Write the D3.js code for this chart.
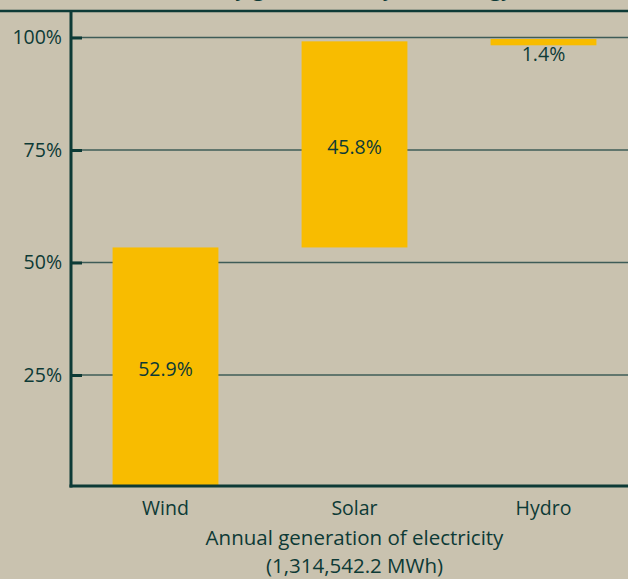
<!DOCTYPE html>
<html>
<head>
<meta charset="utf-8">
<script src="https://cdn.jsdelivr.net/npm/d3@7"></script>
<style>
  html, body { margin: 0; padding: 0; background: #c9c2af; overflow: hidden; }
  svg { display: block; font-family: "Open Sans", Lato, sans-serif; }
</style>
</head>
<body>
<svg id="chart" width="628" height="579"></svg>
<script>
const categories = ["Wind", "Solar", "Hydro"];
const shares = [52.9, 45.8, 1.4];
const yTicks = [25, 50, 75, 100];
const title = "Share of electricity generation by technology";
const xTitle = ["Annual generation of electricity", "(1,314,542.2 MWh)"];

const dark = "#0d3a36";
const gridColor = "#3e5c57";
const barColor = "#f8bc00";

const svg = d3.select("#chart");
const margin = {top: 12, left: 71, bottom: 486};

// running totals for the waterfall
let acc = 0;
const bars = categories.map((c, i) => {
    const start = acc;
    acc += shares[i];
    return {name: c, value: shares[i], start: start, end: acc};
});

const x = d3.scaleBand()
    .domain(categories)
    .range([margin.left, 638])
    .paddingInner(0.44)
    .paddingOuter(0.22);

const y = d3.scaleLinear()
    .domain([0, 100])
    .range([487.5, 37.5]);

// title (mostly cut off at top)
svg.append("text")
    .attr("x", 285)
    .attr("y", -4)
    .attr("text-anchor", "middle")
    .attr("font-size", 22)
    .attr("fill", dark)
    .text(title);

svg.append("line")
    .attr("x1", 0).attr("x2", 628)
    .attr("y1", 11).attr("y2", 11)
    .attr("stroke", dark)
    .attr("stroke-width", 2.5);

// gridlines
svg.append("g")
    .selectAll("line")
    .data(yTicks)
    .join("line")
    .attr("x1", margin.left)
    .attr("x2", 628)
    .attr("y1", d => y(d))
    .attr("y2", d => y(d))
    .attr("stroke", gridColor)
    .attr("stroke-width", 1.5);

// bars (nudged up slightly, top one kept just under the 100% line)
const barTop = d => Math.max(y(d.end) - 2, y(100) + 1.5);
svg.append("g")
    .selectAll("rect")
    .data(bars)
    .join("rect")
    .attr("x", d => x(d.name))
    .attr("y", d => barTop(d))
    .attr("width", x.bandwidth())
    .attr("height", d => Math.min(y(0) - y(d.value), margin.bottom - barTop(d)))
    .attr("fill", barColor);

// value labels
svg.append("g")
    .selectAll("text")
    .data(bars)
    .join("text")
    .attr("x", d => x(d.name) + x.bandwidth() / 2)
    .attr("y", d => d.value < 5 ? y(d.start) + 12 : y((d.start + d.end) / 2) + 2)
    .attr("text-anchor", "middle")
    .attr("dominant-baseline", "middle")
    .attr("font-size", 19.5)
    .attr("fill", dark)
    .text(d => d.value.toFixed(1) + "%");

// y axis
const yAxis = svg.append("g")
    .attr("transform", `translate(${margin.left},0)`)
    .call(d3.axisRight(y).tickValues(yTicks).tickSize(11).tickFormat(d => d + "%"));
yAxis.select(".domain").remove();
yAxis.selectAll(".tick line")
    .attr("stroke", dark)
    .attr("stroke-width", 3);
yAxis.selectAll(".tick text")
    .attr("x", -9)
    .attr("text-anchor", "end")
    .attr("font-size", 19.5)
    .attr("font-family", "'Open Sans', Lato, sans-serif")
    .attr("fill", dark);

svg.append("line")
    .attr("x1", margin.left).attr("x2", margin.left)
    .attr("y1", 10).attr("y2", margin.bottom + 1.5)
    .attr("stroke", dark)
    .attr("stroke-width", 3);

svg.append("line")
    .attr("x1", margin.left - 1.5).attr("x2", 628)
    .attr("y1", margin.bottom).attr("y2", margin.bottom)
    .attr("stroke", dark)
    .attr("stroke-width", 3);

// category labels
svg.append("g")
    .selectAll("text")
    .data(categories)
    .join("text")
    .attr("x", d => x(d) + x.bandwidth() / 2)
    .attr("y", 515)
    .attr("text-anchor", "middle")
    .attr("font-size", 19.5)
    .attr("fill", dark)
    .text(d => d);

svg.append("g")
    .selectAll("text")
    .data(xTitle)
    .join("text")
    .attr("x", x("Solar") + x.bandwidth() / 2)
    .attr("y", (d, i) => 545 + i * 28)
    .attr("text-anchor", "middle")
    .attr("font-size", 20.5)
    .attr("fill", dark)
    .text(d => d);
</script>
</body>
</html>
